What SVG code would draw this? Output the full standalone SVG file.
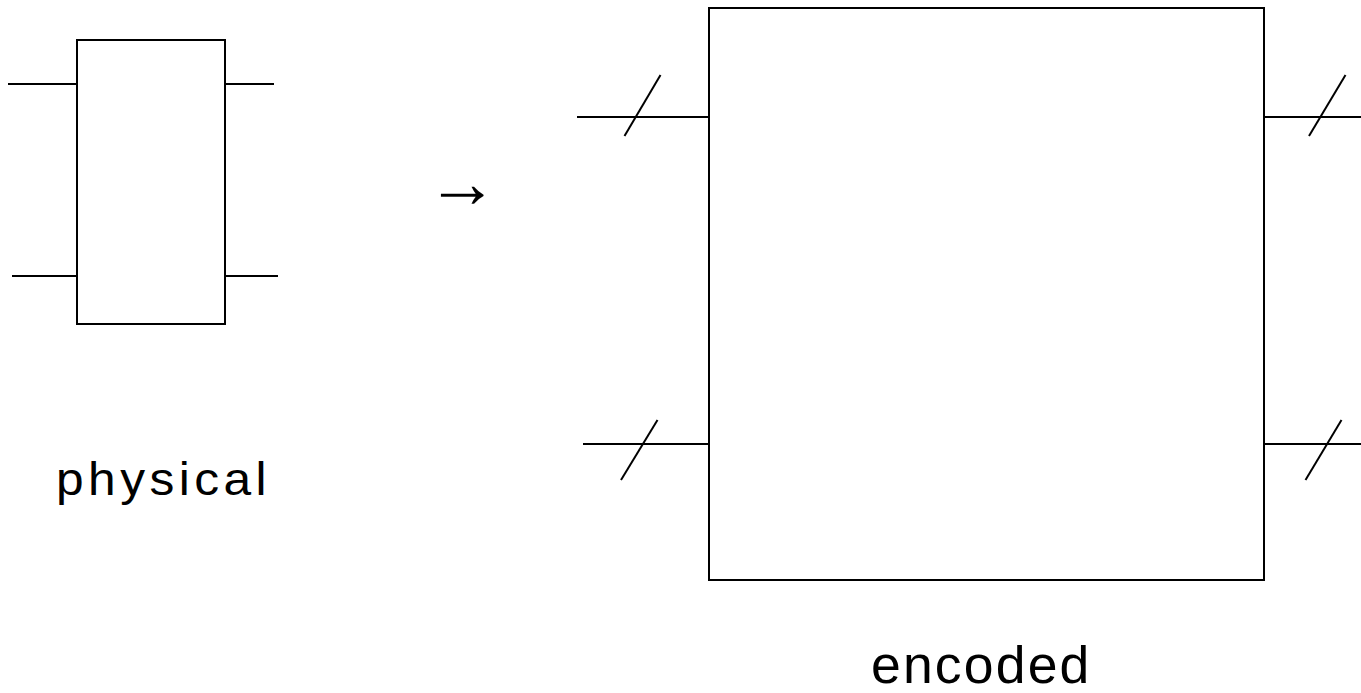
<svg xmlns="http://www.w3.org/2000/svg" width="1361" height="693" viewBox="0 0 1361 693">
<style>
.box{fill:#fff;stroke:#000;stroke-width:2}
.w{stroke:#000;stroke-width:2;fill:none}
.lbl{font-family:"Liberation Sans",Arial,sans-serif;fill:#000}
</style>
<rect width="1361" height="693" fill="#fff"/>
<g id="connectors">
<line class="w" x1="8" y1="84" x2="77" y2="84"/>
<line class="w" x1="225" y1="84" x2="274" y2="84"/>
<line class="w" x1="12" y1="276" x2="77" y2="276"/>
<line class="w" x1="225" y1="276" x2="278" y2="276"/>
<line class="w" x1="577" y1="117" x2="709" y2="117"/>
<line class="w" x1="624.5" y1="136" x2="660.5" y2="75"/>
<line class="w" x1="1264" y1="117" x2="1361" y2="117"/>
<line class="w" x1="1309" y1="136" x2="1345.5" y2="75"/>
<line class="w" x1="583" y1="444" x2="709" y2="444"/>
<line class="w" x1="621" y1="480" x2="657.5" y2="420"/>
<line class="w" x1="1264" y1="444" x2="1361" y2="444"/>
<line class="w" x1="1305.5" y1="480" x2="1341.5" y2="420"/>
</g>
<g id="physical">
<rect class="box" x="77" y="40" width="148" height="284"/>
<text class="lbl" transform="translate(56,495) scale(1.08,1)" x="0" y="0" font-size="46" textLength="195" lengthAdjust="spacing">physical</text>
</g>
<g id="arrow">
<text x="426" y="207" font-family="Liberation Serif,DejaVu Serif,serif" font-size="72">→</text>
</g>
<g id="encoded">
<rect class="box" x="709" y="8" width="555" height="572"/>
<text class="lbl" transform="translate(871,683) scale(1.05,1)" x="0" y="0" font-size="51" textLength="208" lengthAdjust="spacing">encoded</text>
</g>
</svg>
